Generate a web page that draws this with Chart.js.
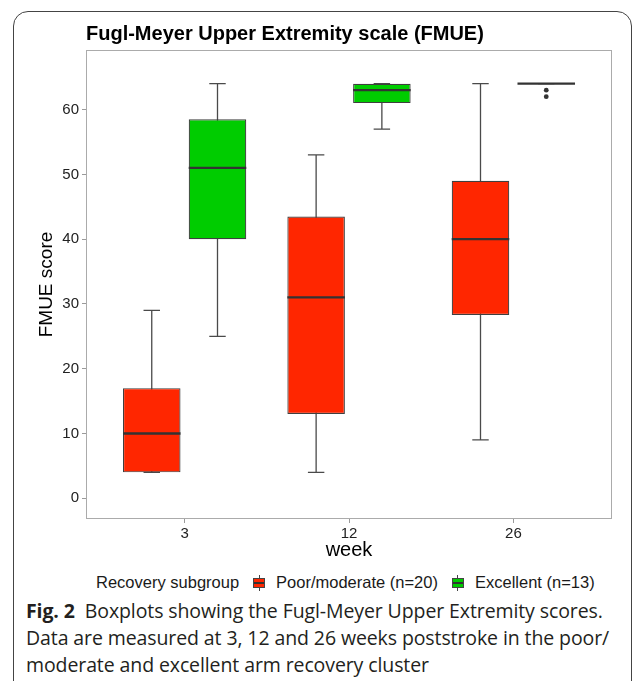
<!DOCTYPE html>
<html lang="en">
<head>
<meta charset="UTF-8">
<title>FMUE boxplots</title>
<script src="https://cdn.jsdelivr.net/npm/chart.js"></script>
<style>
  body { margin: 0; background: #fff; }
  #page { position: relative; width: 633px; height: 681px; overflow: hidden; font-family: "Liberation Sans", Arial, sans-serif; }
  #card { position: absolute; left: 13px; top: 11px; width: 619px; height: 740px; border: 1px solid #444; border-radius: 15px; box-sizing: border-box; }
  #chartCanvas { position: absolute; left: 0; top: 0; }
  #legend { position: absolute; left: 96px; top: 571px; font-size: 16.5px; color: #1a1a1a; white-space: nowrap; line-height: 22px; }
  #legend .item { margin-left: 14px; }
  .key { display: inline-block; position: relative; width: 12px; height: 16px; vertical-align: -3px; margin-right: 11px; }
  .key::before { content: ''; position: absolute; left: 5.5px; top: 0; bottom: 0; width: 1px; background: #444; }
  .key span { position: absolute; left: 0; right: 0; top: 3px; height: 10px; border: 1px solid #444; box-sizing: border-box; }
  .key span::after { content: ''; position: absolute; left: 0; right: 0; top: 3px; height: 2px; background: #333; }
  #caption { position: absolute; left: 26px; top: 597px; font-family: "Open Sans", sans-serif; font-size: 19.5px; line-height: 27px; color: #231f20; white-space: nowrap; letter-spacing: -0.1px; }
</style>
</head>
<body>
<div id="page">
  <div id="card"></div>
  <canvas id="chartCanvas" width="633" height="565"></canvas>
  <div id="legend">Recovery subgroup<span class="item"><span class="key"><span style="background:#ff2600"></span></span>Poor/moderate (n=20)</span><span class="item"><span class="key"><span style="background:#00cc00"></span></span>Excellent (n=13)</span></div>
  <div id="caption"><b>Fig. 2</b>&nbsp; Boxplots showing the Fugl-Meyer Upper Extremity scores.<br>Data are measured at 3, 12 and 26 weeks poststroke in the poor/<br>moderate and excellent arm recovery cluster</div>
</div>

<script>
    // weeks poststroke (x categories)
    const weekLabels = ['3', '12', '26'];
    const weekIndex = [0, 1, 2];

    // poor/moderate group
    const poorMin = [4, 4, 9];
    const poorQ1 = [4, 13, 28.3];
    const poorMedian = [10, 31, 40];
    const poorQ3 = [17, 43.5, 49];
    const poorMax = [29, 53, 64];
    const poorOutliers = [[], [], []];

    // excellent group
    const excMin = [25, 57, 64];
    const excQ1 = [40, 61, 64];
    const excMedian = [51, 63, 64];
    const excQ3 = [58.5, 64, 64];
    const excMax = [64, 64, 64];
    const excOutliers = [[], [], [63, 62]];

    const boxStats = [
        { min: poorMin, max: poorMax, med: poorMedian, out: poorOutliers },
        { min: excMin, max: excMax, med: excMedian, out: excOutliers }
    ];

    Chart.defaults.font.family = '"Liberation Sans", Arial, sans-serif';

    // whiskers, medians and outlier dots on top of the floating bars
    const boxPlotLines = {
        id: 'boxPlotLines',
        beforeDatasetsDraw(chart) {
            const { ctx, scales: { x, y } } = chart;
            const cap = x.getPixelForValue(0.05) - x.getPixelForValue(0);
            ctx.save();
            ctx.strokeStyle = '#4a4a4a';
            ctx.lineWidth = 1.3;
            boxStats.forEach((s, d) => {
                chart.getDatasetMeta(d).data.forEach((bar, i) => {
                    const top = y.getPixelForValue(s.max[i]);
                    const bot = y.getPixelForValue(s.min[i]);
                    ctx.beginPath();
                    ctx.moveTo(bar.x, top); ctx.lineTo(bar.x, bot);
                    ctx.moveTo(bar.x - cap, top); ctx.lineTo(bar.x + cap, top);
                    ctx.moveTo(bar.x - cap, bot); ctx.lineTo(bar.x + cap, bot);
                    ctx.stroke();
                });
            });
            ctx.restore();
        },
        afterDatasetsDraw(chart) {
            const { ctx, scales: { y } } = chart;
            ctx.save();
            ctx.strokeStyle = '#333';
            ctx.fillStyle = '#333';
            ctx.lineWidth = 2.3;
            boxStats.forEach((s, d) => {
                chart.getDatasetMeta(d).data.forEach((bar, i) => {
                    const m = y.getPixelForValue(s.med[i]);
                    ctx.beginPath();
                    ctx.moveTo(bar.x - bar.width / 2, m);
                    ctx.lineTo(bar.x + bar.width / 2, m);
                    ctx.stroke();
                    s.out[i].forEach(v => {
                        ctx.beginPath();
                        ctx.arc(bar.x, y.getPixelForValue(v), 2.4, 0, Math.PI * 2);
                        ctx.fill();
                    });
                });
            });
            // panel border
            const a = chart.chartArea;
            ctx.strokeStyle = '#ababab';
            ctx.lineWidth = 1;
            ctx.strokeRect(a.left + 0.5, a.top + 0.5, a.right - a.left - 1, a.bottom - a.top - 1);
            ctx.restore();
        }
    };

    const ctx = document.getElementById('chartCanvas').getContext('2d');
    const chart = new Chart(ctx, {
        type: 'bar',
        data: {
            datasets: [{
                label: 'Poor/moderate (n=20)',
                data: weekIndex.map((w, i) => ({ x: w, y: [poorQ1[i], poorQ3[i]] })),
                backgroundColor: '#ff2600',
                borderColor: '#3f3f3f',
                borderWidth: 1.2,
                borderSkipped: false,
                categoryPercentage: 0.8,
                barPercentage: 0.875
            }, {
                label: 'Excellent (n=13)',
                data: weekIndex.map((w, i) => ({ x: w, y: [excQ1[i], excQ3[i]] })),
                backgroundColor: '#00cc00',
                borderColor: '#3f3f3f',
                borderWidth: 1.2,
                borderSkipped: false,
                categoryPercentage: 0.8,
                barPercentage: 0.875
            }]
        },
        options: {
            responsive: false,
            animation: false,
            layout: { padding: { left: 0, right: 21, top: 0, bottom: 0 } },
            plugins: {
                legend: { display: false },
                tooltip: { enabled: false },
                title: {
                    display: true,
                    text: 'Fugl-Meyer Upper Extremity scale (FMUE)',
                    align: 'start',
                    fullSize: false,
                    color: '#000',
                    font: { size: 20, weight: 'bold' },
                    padding: { top: 22, bottom: 4 }
                }
            },
            scales: {
                x: {
                    type: 'linear',
                    min: -0.6,
                    max: 2.6,
                    offset: false,
                    afterBuildTicks: (s) => { s.ticks = weekIndex.map(v => ({ value: v })); },
                    afterFit: (s) => { s.height = 46; },
                    ticks: {
                        callback: (v) => weekLabels[v],
                        color: '#222',
                        font: { size: 15 },
                        padding: 2,
                        maxRotation: 0,
                        autoSkip: false
                    },
                    grid: { offset: false, drawOnChartArea: false, tickLength: 4, color: '#9a9a9a' },
                    border: { display: false },
                    title: { display: true, text: 'week', color: '#000', font: { size: 20 }, padding: { top: 0, bottom: 3 } }
                },
                y: {
                    min: -3.2,
                    max: 69.2,
                    afterFit: (s) => { s.width = 86; },
                    ticks: { stepSize: 10, includeBounds: false, color: '#222', font: { size: 15 }, padding: 3 },
                    grid: { drawOnChartArea: false, tickLength: 4, color: '#9a9a9a' },
                    border: { display: false },
                    title: { display: true, text: 'FMUE score', color: '#000', font: { size: 19 }, padding: { top: 35, bottom: 0 } }
                }
            }
        },
        plugins: [boxPlotLines]
    });
</script>
</body>
</html>
